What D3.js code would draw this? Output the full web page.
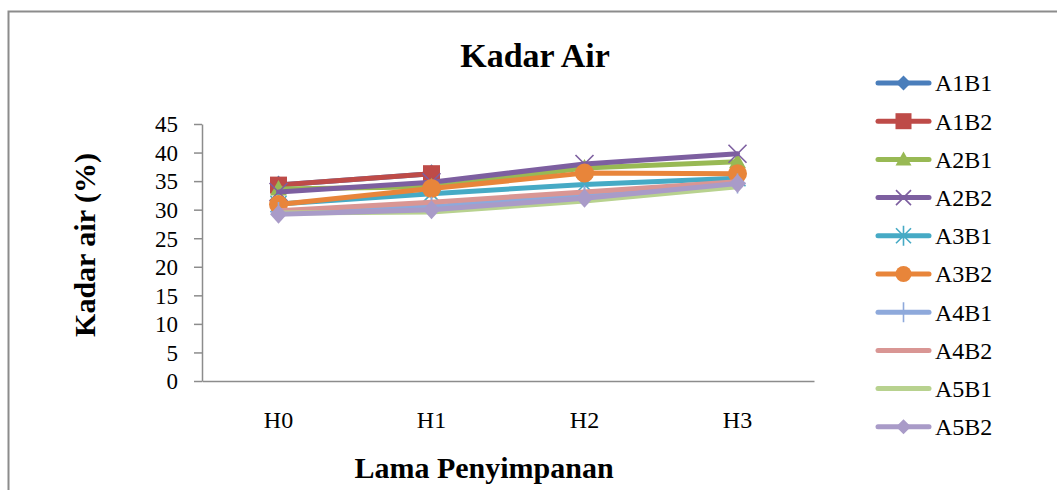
<!DOCTYPE html>
<html>
<head>
<meta charset="utf-8">
<script src="https://cdn.jsdelivr.net/npm/d3@7/dist/d3.min.js"></script>
<style>
  html, body { margin: 0; padding: 0; background: #fff; }
  svg { display: block; }
  text { font-family: "Liberation Serif", "Times New Roman", serif; fill: #000; }
</style>
</head>
<body>
<svg id="chart" width="1057" height="490"></svg>
<script>
// Storage days on the x axis
const categories = ["H0", "H1", "H2", "H3"];
const yTicks = [0, 5, 10, 15, 20, 25, 30, 35, 40, 45];

// Moisture content (%) for each treatment (null = no reading)
const seriesNames = ["A1B1", "A1B2", "A2B1", "A2B2", "A3B1", "A3B2", "A4B1", "A4B2", "A5B1", "A5B2"];
const A1B1 = [34.3, 36.3, null, null];
const A1B2 = [34.3, 36.3, null, null];
const A2B1 = [33.6, 34.0, 37.3, 38.4];
const A2B2 = [33.1, 34.8, 38.0, 39.8];
const A3B1 = [31.0, 32.8, 34.4, 35.5];
const A3B2 = [30.9, 33.7, 36.4, 36.3];
const A4B1 = [29.6, 30.5, 32.5, 34.6];
const A4B2 = [29.8, 31.3, 33.1, 34.9];
const A5B1 = [29.4, 29.6, 31.5, 34.0];
const A5B2 = [29.2, 30.0, 32.0, 34.6];
const seriesValues = [A1B1, A1B2, A2B1, A2B2, A3B1, A3B2, A4B1, A4B2, A5B1, A5B2];

const colors = ["#4A7EBB", "#BE4B48", "#98B954", "#7D5FA0", "#46AAC5", "#E8853A",
                "#8EA9DB", "#D99694", "#B8D28F", "#A99BC8"];
const markers = ["diamond", "square", "triangle", "x", "star", "circle", "plus", "none", "none", "diamond"];

const series = seriesNames.map((name, i) => ({
  name, color: colors[i], marker: markers[i],
  points: categories.map((c, j) => ({ cat: c, value: seriesValues[i][j] }))
}));

const svg = d3.select("#chart");

// chart frame
svg.append("rect")
  .attr("x", 8.5).attr("y", 11.5)
  .attr("width", 1100).attr("height", 600)
  .attr("fill", "none").attr("stroke", "#8c8c8c").attr("stroke-width", 2);

const plot = { left: 202, right: 814, top: 124, bottom: 381 };

const x = d3.scaleBand().domain(categories).range([plot.left, plot.right]);
const y = d3.scaleLinear().domain([0, 45]).range([plot.bottom, plot.top]);
const cx = c => x(c) + x.bandwidth() / 2;

// y axis
const yAxis = svg.append("g")
  .attr("transform", `translate(${plot.left},0)`)
  .call(d3.axisLeft(y).tickValues(yTicks).tickSize(8).tickPadding(16).tickSizeOuter(0));
yAxis.select(".domain").attr("stroke", "#8c8c8c").attr("stroke-width", 1.5);
yAxis.selectAll(".tick line").attr("stroke", "#8c8c8c").attr("stroke-width", 1.5);
yAxis.selectAll(".tick text")
  .style("font-family", '"Liberation Serif", "Times New Roman", serif')
  .style("font-size", "23px").attr("fill", "#000").attr("dy", "0.34em");

// x axis
const xAxis = svg.append("g")
  .attr("transform", `translate(0,${plot.bottom})`)
  .call(d3.axisBottom(x).tickSize(0).tickPadding(30).tickSizeOuter(0));
xAxis.select(".domain").attr("stroke", "#8c8c8c").attr("stroke-width", 1.5);
xAxis.selectAll(".tick text")
  .style("font-family", '"Liberation Serif", "Times New Roman", serif')
  .style("font-size", "24px").attr("fill", "#000");

// titles
svg.append("text").attr("x", 535).attr("y", 67).attr("text-anchor", "middle")
  .style("font-size", "34px").style("font-weight", "bold").text("Kadar Air");
svg.append("text").attr("x", 484).attr("y", 478).attr("text-anchor", "middle")
  .style("font-size", "30px").style("font-weight", "bold").text("Lama Penyimpanan");
svg.append("text")
  .attr("transform", "translate(95,245) rotate(-90)")
  .attr("text-anchor", "middle")
  .style("font-size", "30px").style("font-weight", "bold").text("Kadar air (%)");

// marker drawing
function drawMarker(g, type, color, inLegend) {
  switch (type) {
    case "diamond": {
      const w = inLegend ? 7.5 : 8.5, h = inLegend ? 7.5 : 9.5;
      g.append("path").attr("d", `M0,${-h}L${w},0L0,${h}L${-w},0Z`).attr("fill", color);
      break;
    }
    case "square": {
      const s = inLegend ? 8 : 8.5;
      g.append("rect").attr("x", -s).attr("y", -s)
        .attr("width", 2 * s).attr("height", 2 * s).attr("fill", color);
      break;
    }
    case "triangle":
      g.append("path").attr("d", inLegend ? "M0,-8L8,6L-8,6Z" : "M0,-9L8.5,6.5L-8.5,6.5Z").attr("fill", color);
      break;
    case "circle":
      g.append("circle").attr("r", inLegend ? 8 : 9.5).attr("fill", color);
      break;
    case "x": {
      const s = inLegend ? 7.5 : 9;
      g.append("path").attr("d", `M${-s},${-s}L${s},${s}M${-s},${s}L${s},${-s}`)
        .attr("stroke", color).attr("stroke-width", 1.6).attr("fill", "none");
      break;
    }
    case "star": {
      const s = inLegend ? 7.5 : 8;
      g.append("path").attr("d", `M${-s},${-s}L${s},${s}M${-s},${s}L${s},${-s}M0,-10L0,10`)
        .attr("stroke", color).attr("stroke-width", 1.6).attr("fill", "none");
      break;
    }
    case "plus":
      g.append("path").attr("d", "M0,-10L0,10M-8,0L8,0")
        .attr("stroke", color).attr("stroke-width", 1.6).attr("fill", "none");
      break;
  }
}

const line = d3.line()
  .defined(d => d.value != null)
  .x(d => cx(d.cat)).y(d => y(d.value));

const groups = svg.append("g").selectAll("g.series").data(series).join("g").attr("class", "series");
groups.each(function (s) {
  const g = d3.select(this);
  g.append("path").attr("d", line(s.points))
    .attr("fill", "none").attr("stroke", s.color).attr("stroke-width", 5)
    .attr("stroke-linejoin", "round").attr("stroke-linecap", "round");
  s.points.filter(p => p.value != null).forEach(p => {
    const m = g.append("g").attr("transform", `translate(${cx(p.cat)},${y(p.value)})`);
    drawMarker(m, s.marker, s.color, false);
  });
});

// legend
const legend = svg.append("g");
const legendY0 = 83, legendStep = 38.2;
series.forEach((s, i) => {
  const g = legend.append("g").attr("transform", `translate(0,${legendY0 + i * legendStep})`);
  g.append("line").attr("x1", 878).attr("x2", 929).attr("y1", 0).attr("y2", 0)
    .attr("stroke", s.color).attr("stroke-width", 5).attr("stroke-linecap", "round");
  const m = g.append("g").attr("transform", "translate(903.5,0)");
  drawMarker(m, s.marker, s.color, true);
  g.append("text").attr("x", 935).attr("y", 0).attr("dy", "0.35em")
    .style("font-size", "24px").text(s.name);
});
</script>
</body>
</html>
